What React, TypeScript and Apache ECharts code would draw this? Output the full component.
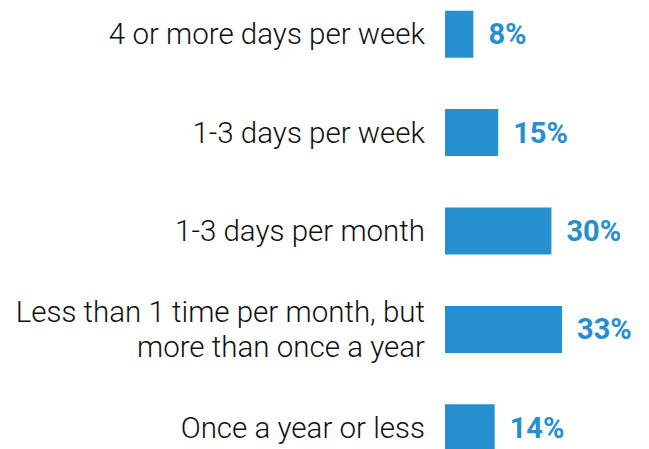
import React, { useEffect, useRef } from "react";
import * as echarts from "echarts";

const categories = [
  "4 or more days per week",
  "1-3 days per week",
  "1-3 days per month",
  "Less than 1 time per month, but\nmore than once a year",
  "Once a year or less",
];
const values = [8, 15, 30, 33, 14];

export default function App() {
  const ref = useRef<HTMLDivElement>(null);
  useEffect(() => {
    document.body.style.margin = "0";
    const chart = echarts.init(ref.current!, null, { renderer: "svg" });
    chart.setOption({
      animation: false,
      backgroundColor: "#ffffff",
      grid: { left: 445, right: 0, top: 0, bottom: 0, containLabel: false },
      xAxis: {
        type: "value",
        min: 0,
        max: 57.5,
        show: false,
      },
      yAxis: {
        type: "category",
        inverse: true,
        data: categories,
        axisLine: { show: false },
        axisTick: { show: false },
        splitLine: { show: false },
        axisLabel: {
          margin: 20,
          fontFamily: "Roboto",
          fontWeight: 300,
          fontSize: 29.5,
          color: "#111111",
          lineHeight: 35,
          align: "right",
        },
      },
      series: [
        {
          type: "bar",
          data: values,
          barWidth: 47,
          itemStyle: { color: "#258fd0" },
          label: {
            show: true,
            position: "right",
            distance: 15,
            formatter: "{c}%",
            fontFamily: "Roboto",
            fontWeight: "bold",
            fontSize: 29,
            color: "#258fd0",
          },
        },
      ],
    });
    return () => chart.dispose();
  }, []);
  return (
    <div style={{ position: "relative", width: 649, height: 449, overflow: "hidden" }}>
      <div ref={ref} style={{ position: "absolute", left: 0, top: -15, width: 649, height: 492 }} />
    </div>
  );
}
